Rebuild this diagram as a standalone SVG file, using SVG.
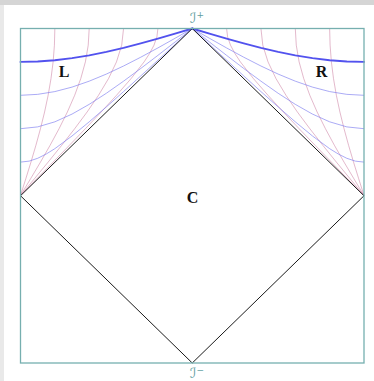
<svg xmlns="http://www.w3.org/2000/svg" xmlns:xlink="http://www.w3.org/1999/xlink" width="374" height="381" viewBox="0 0 374 381">
<style>
.pink{fill:none;stroke:#c9779c;stroke-opacity:0.8;stroke-width:0.65;stroke-linejoin:round}
.blue{fill:none;stroke:#7b7bf0;stroke-opacity:0.8;stroke-width:0.8;stroke-linejoin:round}
.thick{fill:none;stroke:#5252ee;stroke-width:1.9;stroke-linejoin:round;stroke-linecap:round}
.frame{fill:none;stroke:#76afaf;stroke-width:1.3}
.dia{fill:none;stroke:#1a1a1a;stroke-width:1}
.lbl{font-family:"Liberation Serif","DejaVu Serif",serif;font-weight:bold;font-size:16px;fill:#111;text-anchor:middle}
.scri{font-family:"DejaVu Serif","DejaVu Sans",serif;font-size:14px;fill:#5f9ea0}
</style>
<rect x="0" y="0" width="374" height="381" fill="#e9e9e9"/>
<rect x="0" y="0" width="374" height="5" fill="#d5d5d5"/>
<rect x="4" y="5" width="370" height="376" fill="#ffffff"/>
<g id="connectors">
<g id="Lcurves">
<path class="pink" d="M54.85,28.5 L54.41,45.2 L53.11,61.9 L50.99,78.6 L48.13,95.3 L44.58,112 L40.46,128.7 L35.88,145.4 L30.96,162.1 L25.79,178.8 L20.5,195.5"/>
<path class="pink" d="M89.2,28.5 L88.23,45.2 L85.38,61.9 L80.76,78.6 L74.68,95.3 L67.37,112 L59.07,128.7 L50.04,145.4 L40.48,162.1 L30.56,178.8 L20.5,195.5"/>
<path class="pink" d="M123.55,28.5 L121.7,45.2 L116.47,61.9 L108.51,78.6 L98.51,95.3 L87.1,112 L74.68,128.7 L61.62,145.4 L48.13,162.1 L34.37,178.8 L20.5,195.5"/>
<path class="pink" d="M157.9,28.5 L156.9,36.85 L153.99,45.2 L149.56,53.55 L144.08,61.9 L131.05,78.6 L116.49,95.3 L101.15,112 L85.38,128.7 L69.31,145.4 L53.11,162.1 L36.84,178.8 L20.5,195.5"/>
<path class="blue" d="M20.5,95.3 L37.67,94.35 L54.85,91.59 L72.02,87.1 L89.2,81.18 L106.37,74.07 L123.55,66 L140.72,57.22 L157.9,47.93 L175.07,38.28 L192.25,28.5"/>
<path class="blue" d="M20.5,128.7 L37.67,126.9 L54.85,121.82 L72.02,114.08 L89.2,104.35 L106.37,93.26 L123.55,81.18 L140.72,68.49 L157.9,55.37 L175.07,41.99 L192.25,28.5"/>
<path class="blue" d="M20.5,162.1 L29.09,161.13 L37.67,158.3 L46.26,153.99 L54.85,148.66 L72.02,135.99 L89.2,121.83 L106.37,106.91 L123.55,91.59 L140.72,75.96 L157.9,60.21 L175.07,44.38 L192.25,28.5"/>
<path class="thick" d="M20.5,61.9 L37.67,61.47 L54.85,60.21 L72.02,58.15 L89.2,55.37 L106.37,51.91 L123.55,47.91 L140.72,43.45 L157.9,38.66 L175.07,33.63 L192.25,28.5"/>
</g>
<use id="Rcurves" xlink:href="#Lcurves" href="#Lcurves" transform="matrix(-1 0 0 1 384.5 0)"/>
</g>
<g id="diamond">
<path class="dia" d="M192.25,28.5 L364,195.75 L192.25,363 L20.5,195.75 Z"/>
</g>
<g id="frame">
<rect class="frame" x="20.5" y="28.5" width="343.5" height="334.5"/>
</g>
<g id="scri-plus">
<text class="scri" x="190" y="22.5">ℐ<tspan font-size="9" dy="-5">+</tspan></text>
</g>
<g id="scri-minus">
<text class="scri" x="190" y="378">ℐ<tspan font-size="9" dy="-5">−</tspan></text>
</g>
<g id="region-L"><text class="lbl" x="64" y="76.5">L</text></g>
<g id="region-R"><text class="lbl" x="321.5" y="76.5">R</text></g>
<g id="region-C"><text class="lbl" x="192.5" y="202.5">C</text></g>
</svg>
